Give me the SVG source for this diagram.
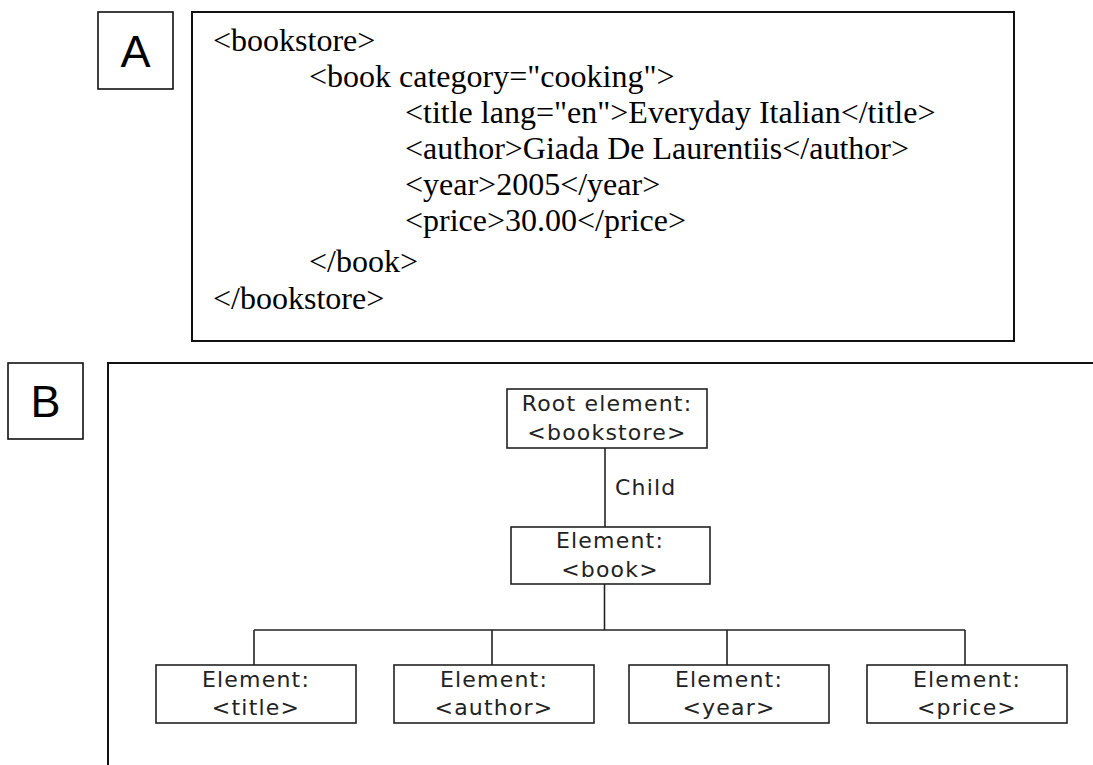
<svg xmlns="http://www.w3.org/2000/svg" width="1093" height="765" viewBox="0 0 1093 765">
  <style>
    .frame { fill: none; stroke: #111; stroke-width: 2; }
    .tag { fill: #fff; stroke: #111; stroke-width: 1.6; }
    .tagtxt { font-family: "Liberation Sans", Arial, sans-serif; font-size: 45px; fill: #000; text-anchor: middle; }
    .xml { font-family: "Liberation Serif", "Times New Roman", serif; font-size: 32px; fill: #000; }
    .node { fill: #fff; stroke: #222; stroke-width: 1.6; }
    .ntxt { font-family: "DejaVu Sans", Verdana, sans-serif; font-size: 22px; letter-spacing: 1.2px; fill: #222; text-anchor: middle; }
    .edge { fill: none; stroke: #222; stroke-width: 1.6; }
    .elabel { font-family: "DejaVu Sans", Verdana, sans-serif; font-size: 22px; letter-spacing: 1.2px; fill: #222; }
  </style>

  <rect width="1093" height="765" fill="#fff"/>

  <!-- Panel A: XML source -->
  <g id="label-a">
    <rect class="tag" x="98" y="12" width="75" height="77"/>
    <text class="tagtxt" x="135.5" y="67">A</text>
  </g>
  <g id="xml-source">
    <rect class="frame" x="192" y="12" width="822" height="329"/>
    <text class="xml" x="213" y="51">&lt;bookstore&gt;</text>
    <text class="xml" x="309" y="87">&lt;book category="cooking"&gt;</text>
    <text class="xml" x="405" y="123">&lt;title lang="en"&gt;Everyday Italian&lt;/title&gt;</text>
    <text class="xml" x="405" y="159">&lt;author&gt;Giada De Laurentiis&lt;/author&gt;</text>
    <text class="xml" x="405" y="195">&lt;year&gt;2005&lt;/year&gt;</text>
    <text class="xml" x="405" y="231">&lt;price&gt;30.00&lt;/price&gt;</text>
    <text class="xml" x="309" y="272">&lt;/book&gt;</text>
    <text class="xml" x="213" y="309">&lt;/bookstore&gt;</text>
  </g>

  <!-- Panel B: element tree -->
  <g id="label-b">
    <rect class="tag" x="8" y="363" width="75" height="76"/>
    <text class="tagtxt" x="45.5" y="417">B</text>
  </g>
  <path id="tree-frame" class="frame" d="M108 765 V363 H1093"/>

  <g id="connectors">
    <line class="edge" x1="605" y1="448" x2="605" y2="527"/>
    <text class="elabel" x="615" y="495">Child</text>
    <line class="edge" x1="604.5" y1="584" x2="604.5" y2="630"/>
    <line class="edge" x1="254" y1="630" x2="965" y2="630"/>
    <line class="edge" x1="254" y1="630" x2="254" y2="665"/>
    <line class="edge" x1="492" y1="630" x2="492" y2="665"/>
    <line class="edge" x1="727" y1="630" x2="727" y2="665"/>
    <line class="edge" x1="965" y1="630" x2="965" y2="665"/>
  </g>

  <g id="node-bookstore">
    <rect class="node" x="507" y="389" width="200" height="59"/>
    <text class="ntxt" x="607" y="411">Root element:</text>
    <text class="ntxt" x="607" y="440">&lt;bookstore&gt;</text>
  </g>
  <g id="node-book">
    <rect class="node" x="511" y="527" width="199" height="57"/>
    <text class="ntxt" x="610" y="548">Element:</text>
    <text class="ntxt" x="610" y="577">&lt;book&gt;</text>
  </g>
  <g id="node-title">
    <rect class="node" x="156" y="665" width="200" height="58"/>
    <text class="ntxt" x="256" y="687">Element:</text>
    <text class="ntxt" x="256" y="715">&lt;title&gt;</text>
  </g>
  <g id="node-author">
    <rect class="node" x="394" y="665" width="200" height="58"/>
    <text class="ntxt" x="494" y="687">Element:</text>
    <text class="ntxt" x="494" y="715">&lt;author&gt;</text>
  </g>
  <g id="node-year">
    <rect class="node" x="629" y="665" width="200" height="58"/>
    <text class="ntxt" x="729" y="687">Element:</text>
    <text class="ntxt" x="729" y="715">&lt;year&gt;</text>
  </g>
  <g id="node-price">
    <rect class="node" x="867" y="665" width="200" height="58"/>
    <text class="ntxt" x="967" y="687">Element:</text>
    <text class="ntxt" x="967" y="715">&lt;price&gt;</text>
  </g>
</svg>
